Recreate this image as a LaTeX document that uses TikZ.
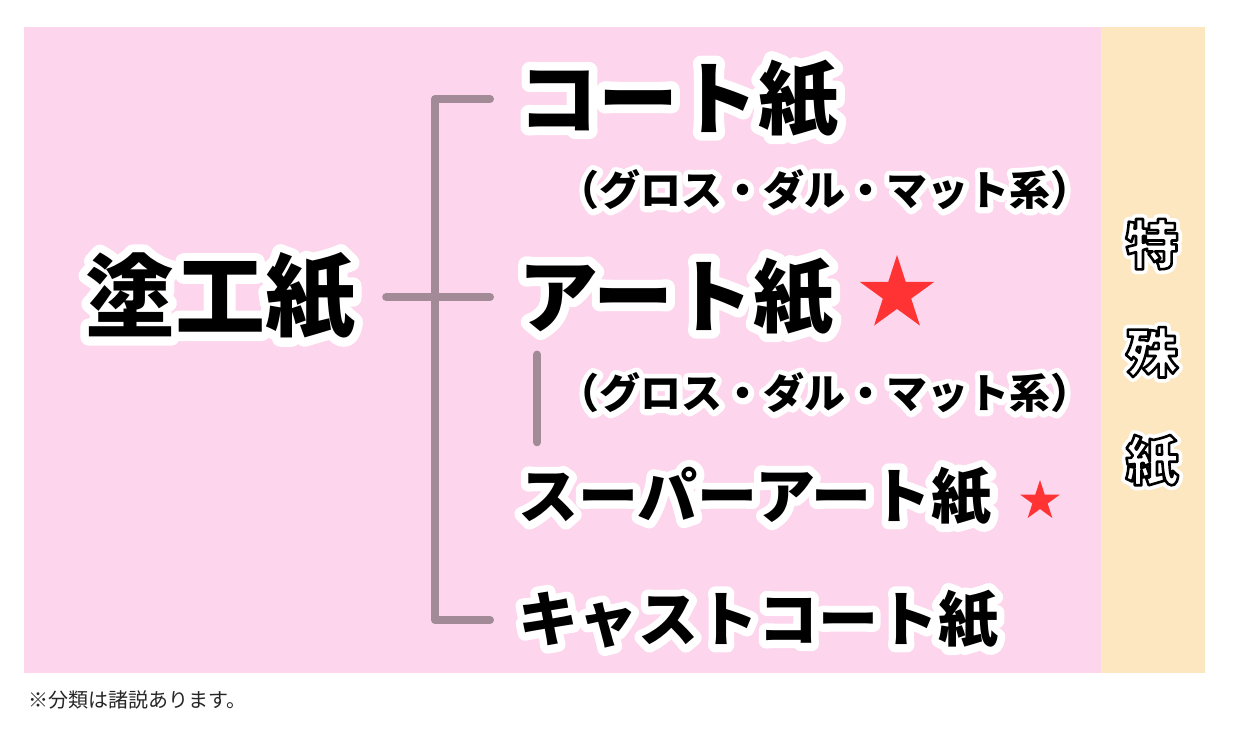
\documentclass[tikz,border=0pt]{standalone}
\usepackage{fontspec}
\usetikzlibrary{shapes.geometric}
\newfontfamily\jpfont{Noto Sans CJK JP}
\definecolor{coatpink}{HTML}{FDD5EC}
\definecolor{specialbeige}{HTML}{FDE7C0}
\definecolor{branchgray}{HTML}{A38A97}
\definecolor{starred}{HTML}{FF3333}
% white rim drawn by stroking the glyphs once, then the glyphs on top
\newcommand{\halo}[2]{\rlap{\special{pdf:literal direct 1 Tr 1 1 1 RG #1 w 1 j 1 J}#2\special{pdf:literal direct 0 Tr}}#2}
\newcommand{\whitelabel}[1]{\rlap{\special{pdf:literal direct 1 Tr 1 1 1 RG 10 w 1 j 1 J}#1\special{pdf:literal direct 0 Tr}}%
  {\color{white}\special{pdf:literal direct 2 Tr 0 0 0 RG 2.6 w 1 j 1 J}#1\special{pdf:literal direct 0 Tr}}}
\tikzset{
  rootname/.style={inner sep=0pt, font=\jpfont\bfseries\fontsize{90}{90}\selectfont},
  bigname/.style={inner sep=0pt, anchor=west, font=\jpfont\bfseries\fontsize{80}{80}\selectfont},
  midname/.style={inner sep=0pt, anchor=west, font=\jpfont\bfseries\fontsize{60}{60}\selectfont},
  subname/.style={inner sep=0pt, font=\jpfont\bfseries\fontsize{41}{41}\selectfont},
  sidename/.style={inner sep=0pt, align=center, font=\jpfont\bfseries\fontsize{53}{108}\selectfont},
  note/.style={inner sep=0pt, anchor=west, text=black!85, font=\jpfont\fontsize{20}{20}\selectfont},
  mark star/.style={star, star points=5, star point ratio=2.618, fill=starred, draw=none, inner sep=0pt},
  branch/.style={draw=branchgray, line width=8pt, line cap=round, line join=round}
}
\begin{document}
\begin{tikzpicture}[x=1pt,y=-1pt]
\useasboundingbox (0,0) rectangle (1233,740);
\fill[white] (0,0) rectangle (1233,740);
\fill[coatpink] (24,27) rectangle (1101,673);
\fill[specialbeige] (1101,27) rectangle (1205,673);
% coated papers
\node[rootname] (coated) at (220,297) {\halo{17}{塗工紙}};
\node[bigname] (coat) at (518,99) {\halo{17}{コート紙}};
\node[subname] (coatsub) at (825,190) {\halo{11}{（グロス・ダル・マット系）}};
\node[bigname] (art) at (518,297) {\halo{17}{アート紙}};
\node[mark star, minimum size=78pt] (artstar) at (897,294) {};
\node[subname] (artsub) at (825,393) {\halo{11}{（グロス・ダル・マット系）}};
\node[midname] (superart) at (518,497) {\halo{15}{スーパーアート紙}};
\node[mark star, minimum size=42pt] (superstar) at (1040,501) {};
\node[midname] (cast) at (518,620) {\halo{15}{キャストコート紙}};
% special papers
\node[sidename] (special) at (1152,353) {\whitelabel{特}\\\whitelabel{殊}\\\whitelabel{紙}};
\node[note] (remark) at (28,700) {※分類は諸説あります。};
% branches
\draw[branch] ([xshift=-28pt]coat.west) -| ([xshift=-83pt]cast.west) -- ([xshift=-28pt]cast.west);
\draw[branch] ([xshift=31pt]coated.east) -- ([xshift=-28pt]art.west);
\draw[branch, shorten <=18pt, shorten >=25pt] ([xshift=19pt]art.south west) -- ([xshift=19pt]superart.north west);
\end{tikzpicture}
\end{document}
